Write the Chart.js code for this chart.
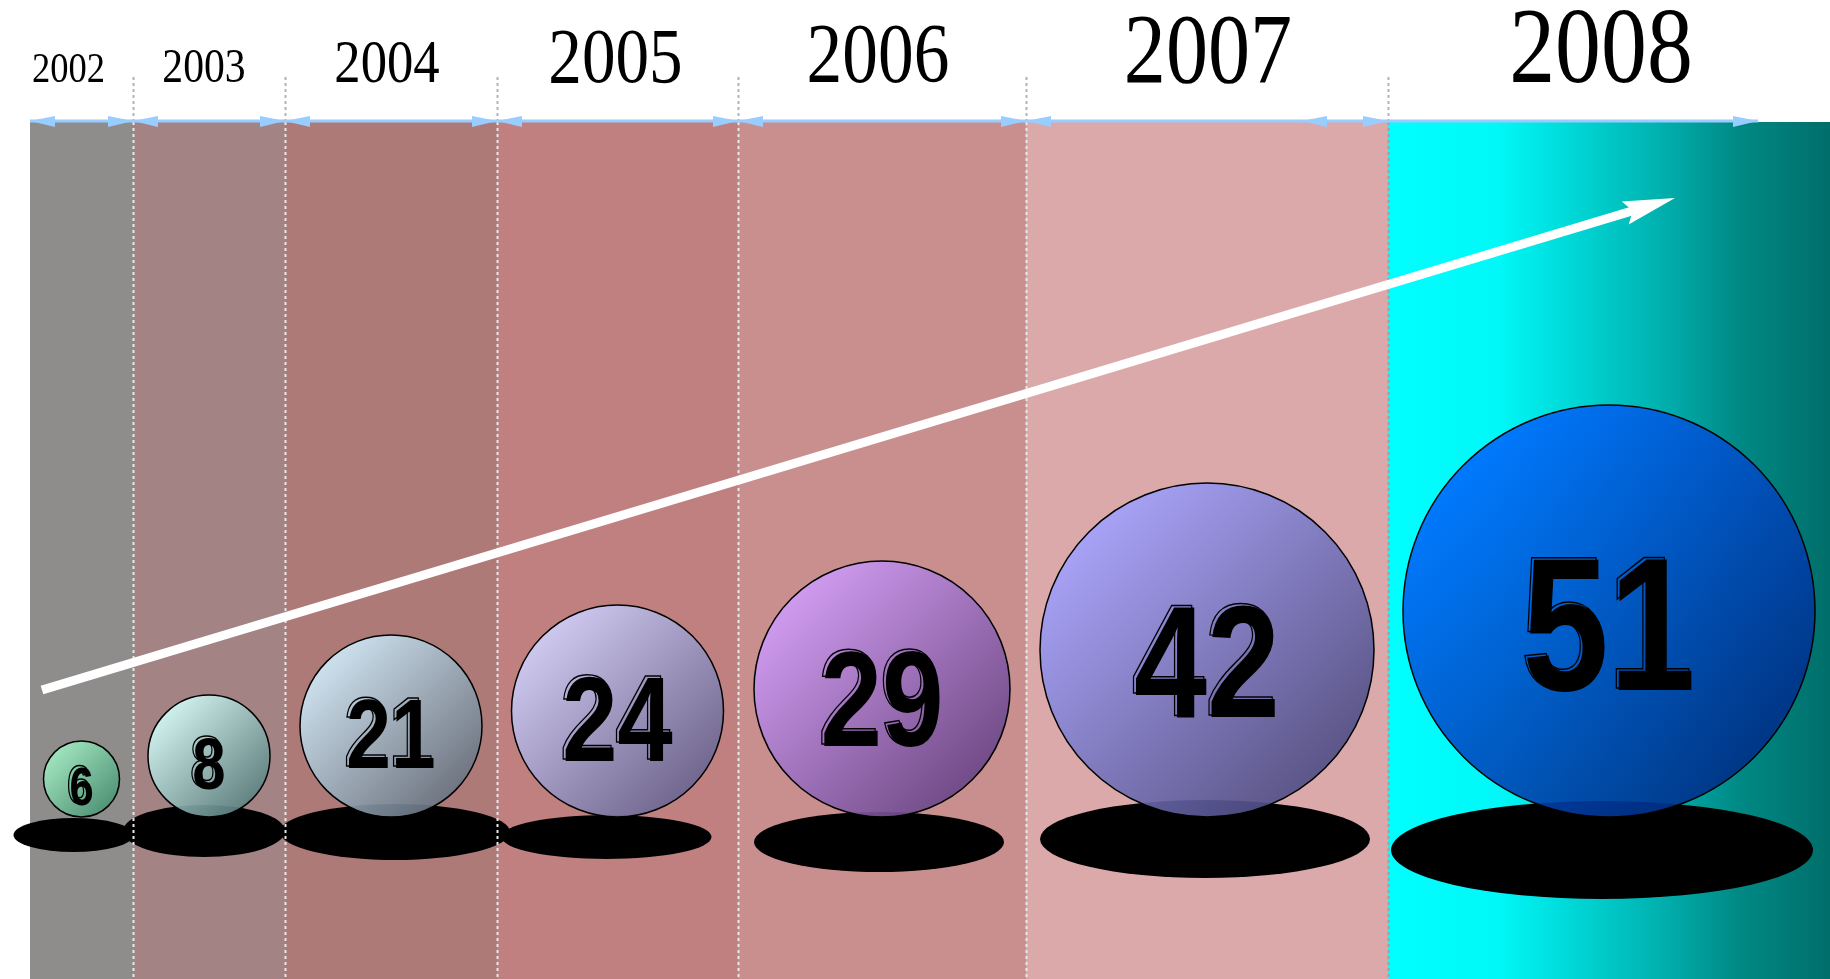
<!DOCTYPE html>
<html>
<head>
<meta charset="utf-8">
<script src="https://cdn.jsdelivr.net/npm/chart.js@4.4.1/dist/chart.umd.min.js"></script>
<style>
    html, body { margin: 0; padding: 0; background: #ffffff; }
    #wrap { width: 1830px; height: 979px; position: relative; }
</style>
</head>
<body>
<div id="wrap"><canvas id="chart-growth"></canvas></div>
<script>
"use strict";

// data
const years = ['2002', '2003', '2004', '2005', '2006', '2007', '2008'];
const values = [6, 8, 21, 24, 29, 42, 51];

// layout / style
const startX = 30;
const colWidths = [103, 152, 212, 241, 288, 362, 442];
const colColors = ['#8f8c8c', '#a38383', '#ad7a78', '#c08080', '#c98f8f', '#dba9a9', null];
const bubbleR = [38, 61, 91, 106, 128, 167, 206];
const bubbleColors = [
    ['#a2eec4', '#4a9474'],
    ['#d4fcf8', '#5c8282'],
    ['#d0ecfa', '#687482'],
    ['#d0d0fc', '#686490'],
    ['#d09cfa', '#684486'],
    ['#a2a2ff', '#4e4c84'],
    ['#006cff', '#002e86']
];
const labelFont = [43, 49, 62, 79, 84, 99, 108];
const labelShift = [-13, -5, -4, -2, -4, 1, -8];
const numFont = [53, 73, 98, 121, 135, 160, 190];
const numShift = [7, 7, 7, 7, 9, 10, 11];
// [dx, dy below baseline, rx, ry]
const shadows = [[-8, 18, 60, 17], [-5, 14, 81, 26], [4, 15, 115, 28], [-11, 20, 105, 22],
                 [-3, 25, 125, 30], [-2, 22, 165, 39], [-7, 33, 211, 49]];

const edges = [startX];
colWidths.forEach((w, i) => edges.push(edges[i] + w));

const bubbleData = values.map((v, i) => ({
    x: (edges[i] + edges[i + 1]) / 2,
    y: bubbleR[i],
    r: bubbleR[i],
    v: v
}));

const TOP = 122;

function arrowHead(ctx, tipX, y, dir) {
    ctx.beginPath();
    ctx.moveTo(tipX, y);
    ctx.lineTo(tipX - dir * 25, y - 5);
    ctx.lineTo(tipX - dir * 25, y + 6);
    ctx.closePath();
    ctx.fill();
}

const decoPlugin = {
    id: 'deco',
    beforeDatasetsDraw(chart) {
        const { ctx, scales: { x, y } } = chart;
        const bottom = chart.height;
        ctx.save();

        // columns
        for (let i = 0; i < years.length; i++) {
            const l = x.getPixelForValue(edges[i]);
            const r = x.getPixelForValue(edges[i + 1]);
            if (colColors[i]) {
                ctx.fillStyle = colColors[i];
            } else {
                const g = ctx.createLinearGradient(l, 0, r, 0);
                g.addColorStop(0, '#00ffff');
                g.addColorStop(0.25, '#00f8f8');
                g.addColorStop(0.6, '#00b4b2');
                g.addColorStop(0.8, '#008884');
                g.addColorStop(1, '#006e6a');
                ctx.fillStyle = g;
            }
            ctx.fillRect(l, TOP, r - l, bottom - TOP);
        }

        // shadows
        ctx.fillStyle = '#000000';
        bubbleData.forEach((d, i) => {
            const s = shadows[i];
            const cx = x.getPixelForValue(d.x) + s[0];
            const cy = y.getPixelForValue(0) + s[1];
            ctx.beginPath();
            ctx.ellipse(cx, cy, s[2], s[3], 0, 0, Math.PI * 2);
            ctx.fill();
        });

        // dotted dividers
        ctx.lineWidth = 2;
        ctx.setLineDash([3, 3]);
        for (let i = 1; i < edges.length - 1; i++) {
            const px = Math.round(x.getPixelForValue(edges[i])) + 0.5;
            ctx.strokeStyle = '#b4b4b4';
            ctx.beginPath();
            ctx.moveTo(px, 77);
            ctx.lineTo(px, TOP);
            ctx.stroke();
            ctx.strokeStyle = i === edges.length - 2 ? '#a0a0a0' : '#e8e8e8';
            ctx.beginPath();
            ctx.moveTo(px, TOP);
            ctx.lineTo(px, bottom);
            ctx.stroke();
        }
        ctx.setLineDash([]);

        // blue span arrows
        ctx.strokeStyle = '#99ccff';
        ctx.fillStyle = '#99ccff';
        ctx.lineWidth = 3;
        for (let i = 0; i < years.length; i++) {
            const l = x.getPixelForValue(edges[i]);
            let r = x.getPixelForValue(edges[i + 1]);
            if (i === years.length - 1) r = x.getPixelForValue(1758);
            ctx.beginPath();
            ctx.moveTo(l, 121);
            ctx.lineTo(r, 121);
            ctx.stroke();
            if (i < years.length - 1) arrowHead(ctx, l, 121, -1);
            arrowHead(ctx, r, 121, 1);
        }
        arrowHead(ctx, x.getPixelForValue(1302), 121, -1);

        // white trend arrow
        const sx = x.getPixelForValue(42), sy = y.getPixelForValue(127);
        const tx = x.getPixelForValue(1675), ty = y.getPixelForValue(619);
        const len = Math.hypot(tx - sx, ty - sy);
        const ux = (tx - sx) / len, uy = (ty - sy) / len;
        const nx = -uy, ny = ux;
        ctx.strokeStyle = '#ffffff';
        ctx.fillStyle = '#ffffff';
        ctx.lineWidth = 9;
        ctx.beginPath();
        ctx.moveTo(sx, sy);
        ctx.lineTo(tx - ux * 44, ty - uy * 44);
        ctx.stroke();
        const bx = tx - ux * 52, by = ty - uy * 52;
        ctx.beginPath();
        ctx.moveTo(tx, ty);
        ctx.lineTo(bx + nx * 12, by + ny * 12);
        ctx.lineTo(tx - ux * 44, ty - uy * 44);
        ctx.lineTo(bx - nx * 12, by - ny * 12);
        ctx.closePath();
        ctx.fill();

        ctx.restore();
    },
    afterDatasetsDraw(chart) {
        const { ctx, scales: { x, y } } = chart;
        ctx.save();
        ctx.textAlign = 'center';
        ctx.textBaseline = 'alphabetic';

        // numbers in bubbles
        bubbleData.forEach((d, i) => {
            const size = numFont[i];
            const cx = x.getPixelForValue(d.x);
            const cy = y.getPixelForValue(d.y) + numShift[i];
            ctx.save();
            ctx.translate(cx, cy + size * 0.358);
            ctx.scale(0.82, 1);
            ctx.font = 'bold ' + size + 'px "Liberation Sans", Arial, sans-serif';
            ctx.strokeStyle = '#000000';
            ctx.lineWidth = 1.5;
            ctx.strokeText(String(d.v), -3, -2);
            ctx.fillStyle = '#000000';
            ctx.fillText(String(d.v), 0, 0);
            ctx.restore();
        });

        // year labels
        years.forEach((yr, i) => {
            const cx = x.getPixelForValue((edges[i] + edges[i + 1]) / 2) + labelShift[i];
            ctx.save();
            ctx.translate(cx, 82);
            ctx.scale(0.85, 1);
            ctx.font = labelFont[i] + 'px "Liberation Serif", "Times New Roman", serif';
            ctx.fillStyle = '#000000';
            ctx.fillText(yr, 0, 0);
            ctx.restore();
        });
        ctx.restore();
    }
};

function bubbleFill(c) {
    const i = c.dataIndex;
    if (c.type !== 'data' || i === undefined) return bubbleColors[0][0];
    const chart = c.chart;
    const xs = chart.scales.x, ys = chart.scales.y;
    const d = c.raw;
    if (!xs || !ys) return bubbleColors[i][0];
    const px = xs.getPixelForValue(d.x), py = ys.getPixelForValue(d.y);
    if (!isFinite(px) || !isFinite(py)) return bubbleColors[i][0];
    const k = d.r * 0.72;
    const g = chart.ctx.createLinearGradient(px - k, py - k, px + k, py + k);
    g.addColorStop(0, bubbleColors[i][0] + 'e6');
    g.addColorStop(1, bubbleColors[i][1] + 'e6');
    return g;
}

new Chart(document.getElementById('chart-growth').getContext('2d'), {
    type: 'bubble',
    data: {
        datasets: [{
            label: 'Growth',
            data: bubbleData,
            backgroundColor: bubbleFill,
            borderColor: '#000000',
            borderWidth: 1.5,
            clip: false
        }]
    },
    options: {
        responsive: true,
        maintainAspectRatio: false,
        devicePixelRatio: 1,
        animation: false,
        events: [],
        layout: { padding: 0, autoPadding: false },
        plugins: {
            legend: { display: false },
            tooltip: { enabled: false }
        },
        scales: {
            x: { type: 'linear', min: 0, max: 1830, display: false },
            y: { type: 'linear', min: -162, max: 817, display: false }
        }
    },
    plugins: [decoPlugin]
});
</script>
</body>
</html>
